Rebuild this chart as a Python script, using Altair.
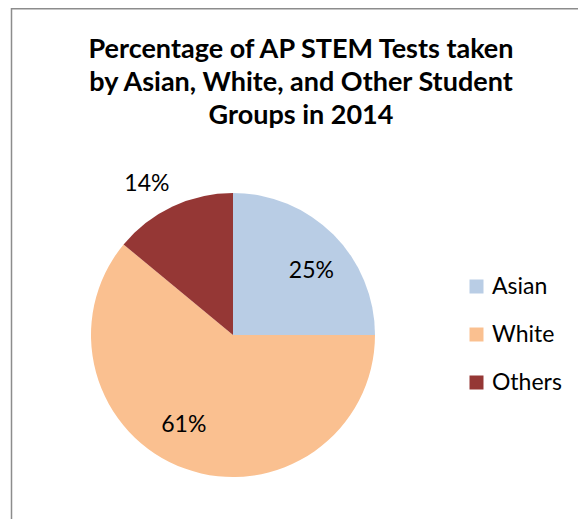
import altair as alt
import pandas as pd

groups = ["Asian", "White", "Others"]
shares = [25, 61, 14]
labels = ["25%", "61%", "14%"]
colors = ["#B9CDE5", "#FAC090", "#953735"]
title_lines = ["Percentage of AP STEM Tests taken",
               "by Asian, White, and Other Student",
               "Groups in 2014"]

df = pd.DataFrame({"group": groups, "share": shares, "label": labels,
                   "order": [0, 1, 2]})
tdf = pd.DataFrame({"t": ["\n".join(title_lines)]})

FONT = "Lato"
CX, CY, R = 225, 327, 142

color = alt.Color("group:N", sort=groups,
                  scale=alt.Scale(domain=groups, range=colors),
                  legend=alt.Legend(title=None, orient="none", legendX=457, legendY=267,
                                    symbolType="square", symbolSize=196,
                                    symbolStrokeWidth=0,
                                    labelFontSize=23, labelFont=FONT, labelColor="#000000",
                                    rowPadding=24, labelOffset=4, padding=0))

base = alt.Chart(df).encode(
    theta=alt.Theta("share:Q", stack=True),
    order=alt.Order("order:Q"),
)

pie = base.mark_arc(radius=R, stroke=None).encode(
    color=color,
    x=alt.value(CX), y=alt.value(CY),
)


def label_layer(name, radius, dx, dy):
    return base.mark_text(radius=radius, fontSize=23, font=FONT, color="#000000",
                          dx=dx, dy=dy).encode(
        text=alt.condition(alt.datum.group == name, alt.Text("label:N"), alt.value("")),
        x=alt.value(CX), y=alt.value(CY),
    )


lab_asian = label_layer("Asian", 101, 7, 7)
lab_white = label_layer("White", 101, -15, -5)
lab_others = label_layer("Others", 174, -12, 6)

title = alt.Chart(tdf).mark_text(fontSize=27, font=FONT, fontWeight="bold",
                                 color="#000000", align="center", baseline="alphabetic",
                                 lineBreak="\n", lineHeight=33).encode(
    text="t:N",
    x=alt.value(293),
    y=alt.value(50),
)

border = pd.DataFrame({"k": [0]})
left = alt.Chart(border).mark_rule(color="#8c8c8c", strokeWidth=1.5).encode(
    x=alt.value(3.5), y=alt.value(0), y2=alt.value(520))
top = alt.Chart(border).mark_rule(color="#8c8c8c", strokeWidth=1.5).encode(
    x=alt.value(3.5), x2=alt.value(580), y=alt.value(0.75))

chart = alt.layer(left, top, pie, lab_asian, lab_white, lab_others, title).properties(
    width=570, height=511, padding=0,
    autosize=alt.AutoSizeParams(type="none"),
).configure_view(stroke=None)

chart.save("out.html", embed_options={"renderer": "svg", "actions": False})
